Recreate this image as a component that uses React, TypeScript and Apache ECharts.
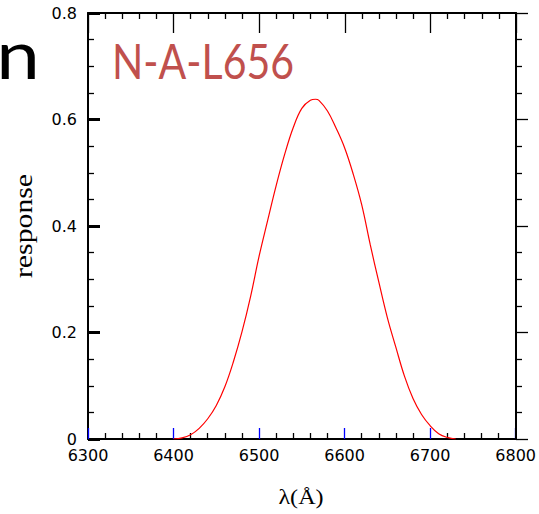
import React, { useEffect, useRef } from "react";
import * as echarts from "echarts";

const wavelengths = [6400, 6410, 6420, 6430, 6440, 6450, 6460, 6470, 6480, 6490, 6500, 6510, 6520, 6530, 6540, 6550, 6560, 6566, 6570, 6580, 6590, 6600, 6610, 6620, 6630, 6640, 6650, 6660, 6670, 6680, 6690, 6700, 6710, 6720, 6730];
const responses = [0, 0.002, 0.008, 0.02, 0.038, 0.063, 0.098, 0.145, 0.201, 0.267, 0.343, 0.41, 0.476, 0.535, 0.585, 0.621, 0.636, 0.638, 0.636, 0.616, 0.584, 0.547, 0.498, 0.44, 0.365, 0.295, 0.228, 0.172, 0.118, 0.076, 0.046, 0.025, 0.01, 0.003, 0];
const xTicks = [6300, 6800, 100];
const yTicks = [0, 0.8, 0.2];
const filterLabel = "N-A-L656";

const gridRect = { left: 88, top: 13, right: 23, bottom: 75 };

function xAx(position: string, showLabel: boolean, tick: any) {
  return {
    type: "value", position, min: xTicks[0], max: xTicks[1], interval: xTicks[2],
    axisLine: { show: true, onZero: false, lineStyle: { color: "#000", width: 2 } },
    axisTick: tick,
    minorTick: { show: true, splitNumber: 5, length: 6, lineStyle: { color: "#000", width: 1.3 } },
    axisLabel: showLabel
      ? { fontFamily: "DejaVu Sans, sans-serif", fontSize: 16, color: "#000", margin: 8, formatter: (v: number) => String(v) }
      : { show: false },
    splitLine: { show: false },
  };
}
function yAx(position: string, showLabel: boolean, tick: any) {
  return {
    type: "value", position, min: yTicks[0], max: yTicks[1], interval: yTicks[2],
    axisLine: { show: true, onZero: false, lineStyle: { color: "#000", width: 2 } },
    axisTick: tick,
    minorTick: { show: true, splitNumber: 4, length: 6, lineStyle: { color: "#000", width: 1.3 } },
    axisLabel: showLabel
      ? { fontFamily: "DejaVu Sans, sans-serif", fontSize: 16, lineHeight: 12, color: "#000", margin: 11, formatter: (v: number) => (v === 0 ? "0" : v.toFixed(1)) }
      : { show: false },
    splitLine: { show: false },
  };
}

export default function App() {
  const refA = useRef<HTMLDivElement>(null);
  const refB = useRef<HTMLDivElement>(null);
  useEffect(() => {
    const chartA = echarts.init(refA.current!, null, { renderer: "svg" });
    const chartB = echarts.init(refB.current!, null, { renderer: "svg" });
    chartA.setOption({
      animation: false,
      backgroundColor: "#fff",
      grid: { ...gridRect },
      xAxis: xAx("bottom", true, { show: true, inside: true, length: 11, lineStyle: { color: "#00f", width: 1.3 } }),
      yAxis: yAx("left", true, { show: true, inside: true, length: 12, lineStyle: { color: "#000", width: 3 } }),
      series: [
        {
          type: "line",
          data: wavelengths.map((w, i) => [w, responses[i]]),
          smooth: 0.4,
          showSymbol: false,
          lineStyle: { color: "#ff0000", width: 1.2 },
        },
      ],
      graphic: [
        {
          type: "text", x: 112, y: 37, scaleX: 0.855,
          style: { text: filterLabel, fontFamily: "Lato, Open Sans, sans-serif", fontSize: 48, fill: "#c0504d" },
        },
        {
          type: "text", x: 40, y: 19, scaleX: 1.15,
          style: { text: "n", align: "right", fontFamily: "Lato, Open Sans, sans-serif", fontSize: 68, fill: "#000" },
        },
        {
          type: "text", x: 24, y: 226, rotation: Math.PI / 2, scaleX: 1.19,
          style: { text: "response", align: "center", verticalAlign: "middle", fontFamily: "Liberation Serif, serif", fontSize: 25, fill: "#000" },
        },
        {
          type: "text", x: 301, y: 497, scaleX: 1.15,
          style: { text: "λ(Å)", align: "center", verticalAlign: "middle", fontFamily: "Liberation Serif, serif", fontSize: 21, fill: "#000" },
        },
      ],
    });
    chartB.setOption({
      animation: false,
      grid: { ...gridRect },
      xAxis: xAx("top", false, { show: true, inside: true, length: 20, lineStyle: { color: "#000", width: 1.3 } }),
      yAxis: yAx("right", false, { show: true, inside: false, length: 12, lineStyle: { color: "#000", width: 1.3 } }),
      series: [],
    });
    return () => {
      chartA.dispose();
      chartB.dispose();
    };
  }, []);
  const box = { position: "fixed" as const, left: 0, top: 0, width: 539, height: 514 };
  return (
    <>
      <div ref={refA} style={box} />
      <div ref={refB} style={{ ...box, pointerEvents: "none" }} />
    </>
  );
}
